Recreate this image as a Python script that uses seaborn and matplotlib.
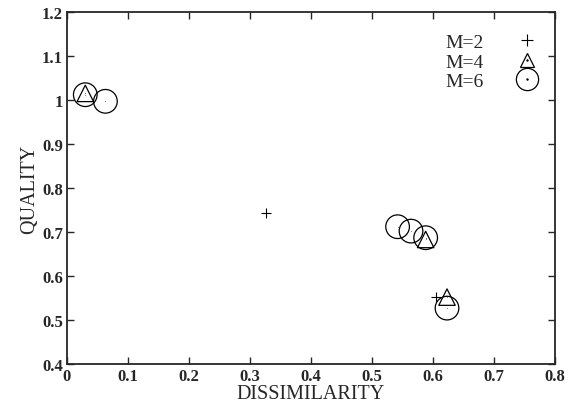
import pandas as pd
import seaborn as sns
import matplotlib.pyplot as plt
from matplotlib.lines import Line2D

# values
m2_x = [0.327, 0.605]
m2_y = [0.744, 0.553]
m4_x = [0.030, 0.588, 0.623]
m4_y = [1.015, 0.683, 0.552]
m6_x = [0.030, 0.063, 0.542, 0.564, 0.588, 0.623]
m6_y = [1.012, 0.997, 0.712, 0.702, 0.687, 0.527]

sns.set_style("ticks")
plt.rcParams['font.family'] = ['Liberation Serif', 'DejaVu Serif']

df2 = pd.DataFrame({'x': m2_x, 'y': m2_y})
df4 = pd.DataFrame({'x': m4_x, 'y': m4_y})
df6 = pd.DataFrame({'x': m6_x, 'y': m6_y})

fig = plt.figure(figsize=(5.81, 4.06), dpi=100)
ax = fig.add_axes([0.1153, 0.101, 0.8399, 0.867])

sns.scatterplot(data=df2, x='x', y='y', marker='+', s=60, color='black',
                linewidth=0.8, ax=ax, legend=False)
sns.scatterplot(data=df4, x='x', y='y', marker='^', s=140, facecolor='none',
                edgecolor='black', linewidth=0.9, ax=ax, legend=False)
sns.scatterplot(data=df4, x='x', y='y', marker='.', s=2, color='black',
                ax=ax, legend=False)
sns.scatterplot(data=df6, x='x', y='y', marker='o', s=290, facecolor='none',
                edgecolor='black', linewidth=0.9, ax=ax, legend=False)
sns.scatterplot(data=df6, x='x', y='y', marker='.', s=2, color='black',
                ax=ax, legend=False)

ax.set_xlim(0, 0.8)
ax.set_ylim(0.4, 1.2)
ax.set_xticks([0, 0.1, 0.2, 0.3, 0.4, 0.5, 0.6, 0.7, 0.8])
ax.set_xticklabels(['0', '0.1', '0.2', '0.3', '0.4', '0.5', '0.6', '0.7', '0.8'])
ax.set_yticks([0.4, 0.5, 0.6, 0.7, 0.8, 0.9, 1.0, 1.1, 1.2])
ax.set_yticklabels(['0.4', '0.5', '0.6', '0.7', '0.8', '0.9', '1', '1.1', '1.2'])
for lab in ax.get_xticklabels() + ax.get_yticklabels():
    lab.set_fontweight('bold')
    lab.set_fontsize(12)
ax.tick_params(direction='in', length=5, width=1, top=True, right=True, pad=3)
for sp in ax.spines.values():
    sp.set_visible(True)
    sp.set_linewidth(1.3)

ax.set_xlabel('DISSIMILARITY', fontsize=14.5)
ax.xaxis.set_label_coords(0.5, -0.056)
ax.set_ylabel('QUALITY', fontsize=14.5, labelpad=2)

h2 = Line2D([], [], marker='+', color='black', linestyle='none',
            markersize=9, markeredgewidth=0.8)
h4 = (Line2D([], [], marker='^', markerfacecolor='none', markeredgecolor='black',
             linestyle='none', markersize=10, markeredgewidth=0.9),
      Line2D([], [], marker='.', color='black', linestyle='none', markersize=1.5))
h6 = (Line2D([], [], marker='o', markerfacecolor='none', markeredgecolor='black',
             linestyle='none', markersize=16, markeredgewidth=0.9),
      Line2D([], [], marker='.', color='black', linestyle='none', markersize=1.5))
ax.legend([h2, h4, h6], ['M=2', 'M=4', 'M=6'], loc='upper right',
          frameon=False, markerfirst=False, fontsize=14, handlelength=1.6,
          handletextpad=1.4, labelspacing=0.1, borderaxespad=0.25,
          bbox_to_anchor=(1.0, 0.975))

fig.savefig('out.png', dpi=100)
